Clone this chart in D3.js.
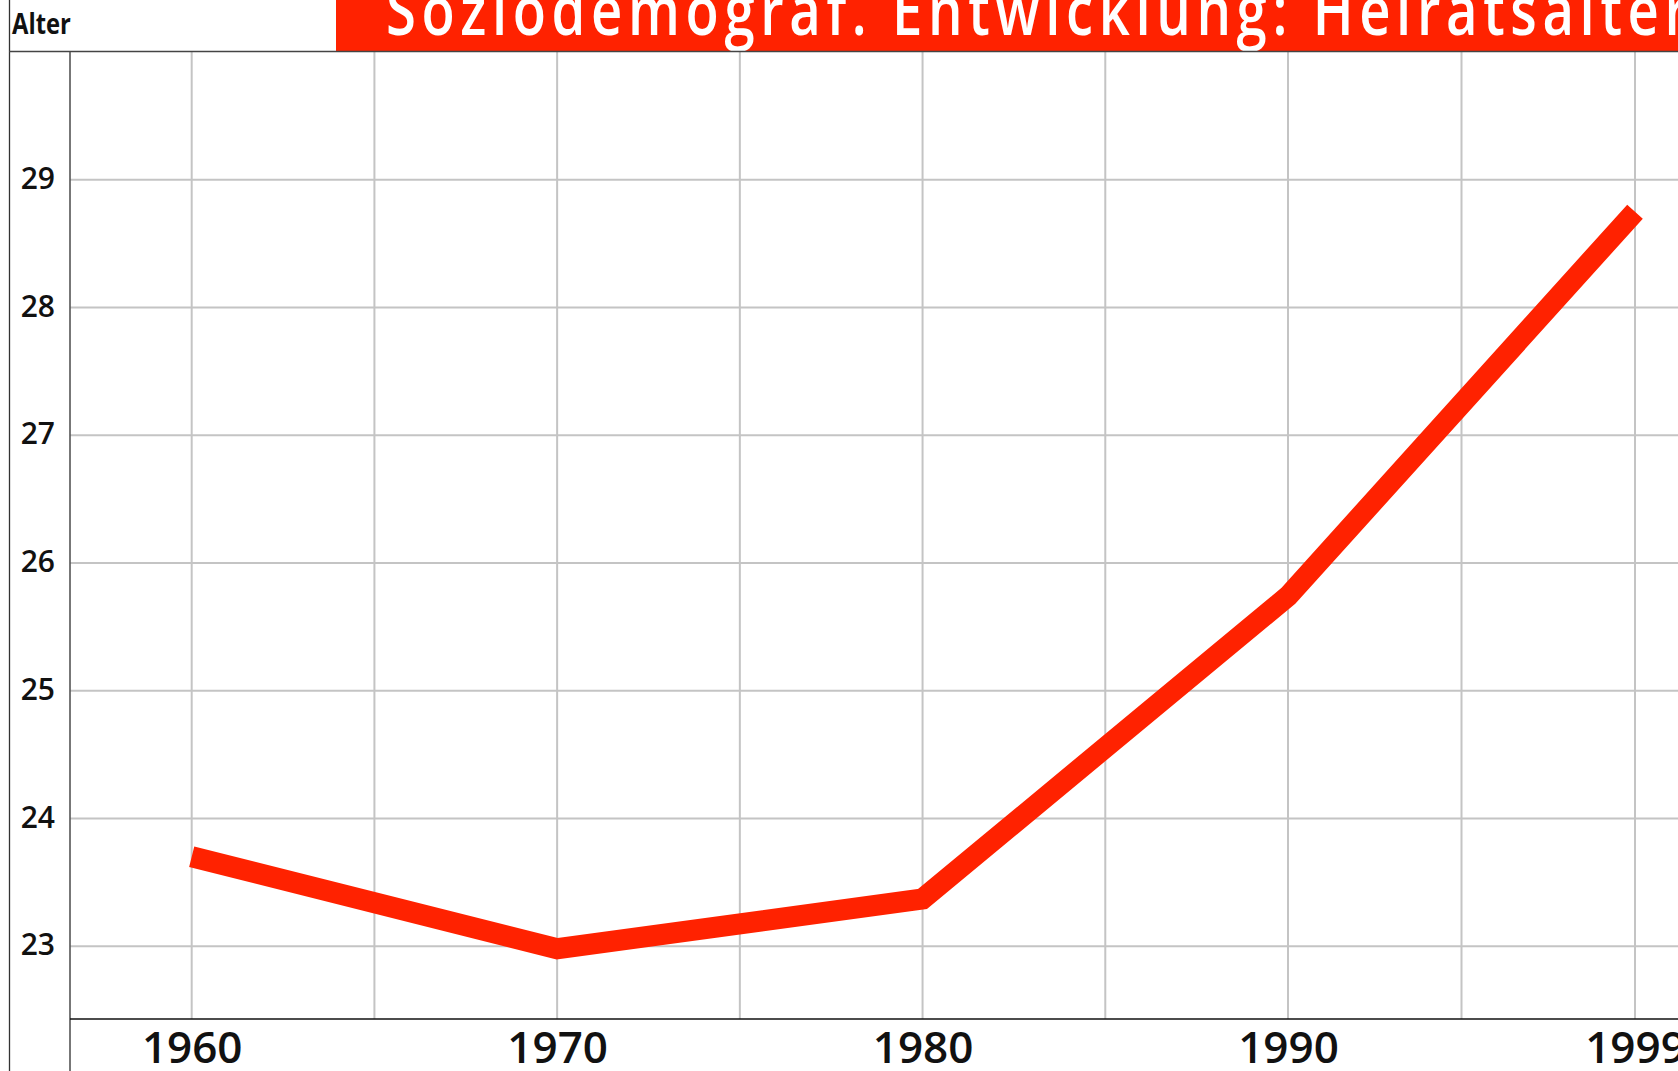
<!DOCTYPE html>
<html>
<head>
<meta charset="utf-8">
<script src="https://cdn.jsdelivr.net/npm/d3@7"></script>
<style>
  html, body { margin: 0; padding: 0; background: #fff; }
  svg { display: block; }
</style>
</head>
<body>
<svg id="chart" width="1678" height="1071"></svg>
<script>
// ---- data ----
const years = [1960, 1970, 1980, 1990, 1999];
const heiratsalter = [23.70, 22.98, 23.37, 25.74, 28.75];
const yTicks = [23, 24, 25, 26, 27, 28, 29];
const xTickLabels = ["1960", "1970", "1980", "1990", "1999"];
const titleText = "Soziodemograf. Entwicklung: Heiratsalter";
const yAxisTitle = "Alter";

// ---- layout ----
const W = 1678, H = 1071;
const plotLeft = 70, plotTop = 52, plotBottom = 1019;
const red = "#ff2200";
const gridColor = "#c4c4c4";
const font = "'Open Sans', 'Noto Sans', sans-serif";

const svg = d3.select("#chart");

const x = d3.scaleLinear()
  .domain([years[0], years[3], years[4]])
  .range([191.7, 1288, 1635]);
const y = d3.scaleLinear()
  .domain([22.43, 30])
  .range([plotBottom, plotTop]);

// vertical gridlines: at each year and midway between neighbours
const gridXs = [];
years.forEach((yr, i) => {
  gridXs.push(x(yr));
  if (i < years.length - 1) gridXs.push((x(yr) + x(years[i + 1])) / 2);
});

const grid = svg.append("g");
grid.selectAll("line.v").data(gridXs).join("line")
  .attr("class", "v")
  .attr("x1", d => d).attr("x2", d => d)
  .attr("y1", plotTop).attr("y2", plotBottom)
  .attr("stroke", gridColor).attr("stroke-width", 2);

grid.selectAll("line.h").data(yTicks).join("line")
  .attr("class", "h")
  .attr("x1", plotLeft).attr("x2", W)
  .attr("y1", d => y(d)).attr("y2", d => y(d))
  .attr("stroke", gridColor).attr("stroke-width", 2);

// title bar
svg.append("rect")
  .attr("x", 336).attr("y", 0)
  .attr("width", W - 336).attr("height", plotTop)
  .attr("fill", red);

const sx = 0.8;
svg.append("text")
  .attr("transform", `translate(386,35) scale(${sx},1)`)
  .attr("font-family", font)
  .attr("font-size", 68)
  .attr("font-weight", 600)
  .attr("fill", "#fff")
  .attr("textLength", (1688 - 386) / sx)
  .attr("lengthAdjust", "spacing")
  .text(titleText);

// y axis title
svg.append("text")
  .attr("transform", "translate(12,33.5) scale(0.85,1)")
  .attr("font-family", font)
  .attr("font-size", 28)
  .attr("font-weight", 700)
  .attr("fill", "#111")
  .text(yAxisTitle);

// frame lines
svg.append("line")
  .attr("x1", 9.5).attr("x2", 9.5).attr("y1", 0).attr("y2", H)
  .attr("stroke", "#333").attr("stroke-width", 1.3);
svg.append("line")
  .attr("x1", 9).attr("x2", W).attr("y1", plotTop - 0.5).attr("y2", plotTop - 0.5)
  .attr("stroke", "#444").attr("stroke-width", 1.5);
svg.append("line")
  .attr("x1", plotLeft).attr("x2", plotLeft).attr("y1", plotTop).attr("y2", H)
  .attr("stroke", "#555").attr("stroke-width", 1.6);
svg.append("line")
  .attr("x1", plotLeft).attr("x2", W).attr("y1", plotBottom).attr("y2", plotBottom)
  .attr("stroke", "#111").attr("stroke-width", 1.6);

// y axis labels
const yAxis = d3.axisLeft(y).tickValues(yTicks).tickSize(0).tickPadding(15)
  .tickFormat(d => String(d));
const gy = svg.append("g").attr("transform", `translate(${plotLeft},0)`).call(yAxis);
gy.select(".domain").remove();
gy.selectAll("text")
  .attr("dy", "0.29em")
  .attr("font-family", font)
  .attr("font-size", 30)
  .attr("font-weight", 600)
  .attr("fill", "#111");

// x axis labels
const xAxis = d3.axisBottom(x).tickValues(years).tickSize(0).tickPadding(12.8)
  .tickFormat((d, i) => xTickLabels[i]);
const gx = svg.append("g").attr("transform", `translate(0,${plotBottom})`).call(xAxis);
gx.select(".domain").remove();
gx.selectAll("text")
  .attr("font-family", font)
  .attr("font-size", 44)
  .attr("font-weight", 600)
  .attr("fill", "#111");

// data line
const line = d3.line()
  .x((d, i) => x(years[i]))
  .y(d => y(d));
svg.append("path")
  .datum(heiratsalter)
  .attr("d", line)
  .attr("fill", "none")
  .attr("stroke", red)
  .attr("stroke-width", 21)
  .attr("stroke-linecap", "butt")
  .attr("stroke-linejoin", "miter");
</script>
</body>
</html>
